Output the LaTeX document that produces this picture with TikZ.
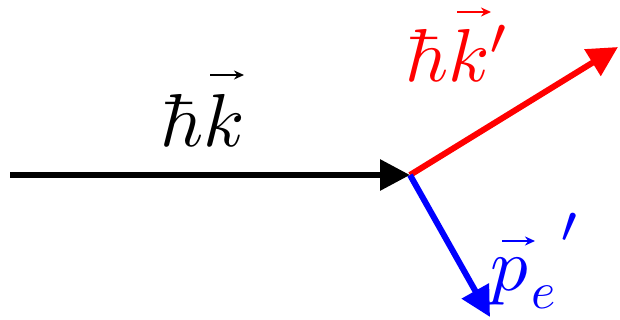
\documentclass[tikz,border=0pt]{standalone}
\usepackage{graphicx}
\usetikzlibrary{arrows.meta,calc}
\newcommand{\lblbig}[1]{\scalebox{7.5}{$#1$}}
\newcommand{\lblmid}[1]{\scalebox{5.2}{$#1$}}
\begin{document}
\begin{tikzpicture}[x=1pt,y=-1pt,
  vecline/.style={line width=6pt,-{Triangle[length=30pt,width=30pt]}},
  lbl/.style={inner sep=0pt,anchor=base west},
  varrow/.style={line width=2.2pt,-{Stealth[length=10pt,width=9pt]}}]
\useasboundingbox (0,0) rectangle (620,320);
\coordinate (s) at (10,175);
\coordinate (c) at (410,175);
\coordinate (r) at (618,47);
\coordinate (b) at (490,317);
\draw[vecline,black] (s) -- (c);
\draw[vecline,red] (c) -- (r);
\draw[vecline,blue] (c) -- (b);
% labels
\node[lbl,black] (lk) at (160,147) {\lblbig{\hbar k}};
\draw[varrow,black] ($(lk.base west)+(50,-72)$) -- ++(34,0);
\node[lbl,red] (lkp) at (405,82) {\lblbig{\hbar k'}};
\draw[varrow,red] ($(lkp.base west)+(52,-70)$) -- ++(34,0);
\node[lbl,blue] (lp) at (490,290) {\lblbig{p}};
\draw[varrow,blue] ($(lp.base west)+(12,-49)$) -- ++(33,0);
\node[lbl,blue] (le) at (531,308) {\lblmid{e}};
\node[lbl,blue] (lpr) at (560,270) {\lblbig{'}};
\end{tikzpicture}
\end{document}
